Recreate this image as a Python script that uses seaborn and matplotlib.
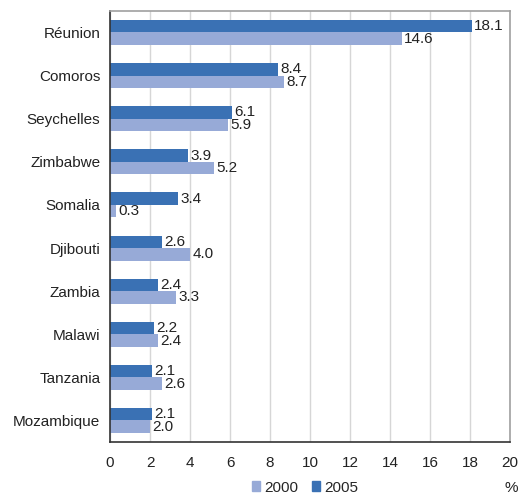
import numpy as np
import pandas as pd
import matplotlib
matplotlib.use('Agg')
import matplotlib.pyplot as plt
import seaborn as sns
from matplotlib.patches import Patch

countries = ['Réunion', 'Comoros', 'Seychelles', 'Zimbabwe', 'Somalia',
             'Djibouti', 'Zambia', 'Malawi', 'Tanzania', 'Mozambique']
vals_2005 = [18.1, 8.4, 6.1, 3.9, 3.4, 2.6, 2.4, 2.2, 2.1, 2.1]
vals_2000 = [14.6, 8.7, 5.9, 5.2, 0.3, 4.0, 3.3, 2.4, 2.6, 2.0]
years = ['2005', '2000']
colors = {'2005': '#3a71b4', '2000': '#97aad7'}

df = pd.DataFrame({
    'country': countries * 2,
    'year': ['2005'] * len(countries) + ['2000'] * len(countries),
    'value': vals_2005 + vals_2000,
})

sns.set_style('white')
plt.rcParams['font.family'] = ['Liberation Sans', 'DejaVu Sans']

fig = plt.figure(figsize=(5.19, 4.95), dpi=100)
ax = fig.add_axes([0.212, 0.107, 0.771, 0.871])

sns.barplot(data=df, x='value', y='country', hue='year', hue_order=years,
            order=countries, palette=colors, width=0.58, orient='h',
            saturation=1, linewidth=0, ax=ax, legend=False)

for cont in ax.containers:
    labels = [f'{v:.1f}' for v in cont.datavalues]
    ax.bar_label(cont, labels=labels, padding=1.5, fontsize=11, color='#222222')

ax.set_xlim(0, 20)
ax.set_ylim(len(countries) - 0.5, -0.5)
ax.set_xticks(np.arange(0, 21, 2))
ax.set_xlabel('')
ax.set_ylabel('')
ax.xaxis.grid(True, color='#d6d6d6', lw=1)
ax.set_axisbelow(True)

ax.tick_params(axis='y', which='major', length=0, labelsize=11, pad=7, colors='#222222')
ax.set_yticks(np.arange(-0.5, len(countries), 1), minor=True)
ax.tick_params(axis='y', which='minor', length=4, direction='out', color='#333333')
ax.tick_params(axis='x', length=4, direction='out', labelsize=11, colors='#222222',
               color='#333333', pad=6)

for s in ['left', 'bottom']:
    ax.spines[s].set_color('#333333')
    ax.spines[s].set_linewidth(1.2)
for s in ['top', 'right']:
    ax.spines[s].set_color('#a0a0a0')
    ax.spines[s].set_linewidth(1.2)

handles = [Patch(color=colors['2000'], label='2000'),
           Patch(color=colors['2005'], label='2005')]
fig.legend(handles=handles, loc='center', bbox_to_anchor=(0.588, 0.015), ncol=2,
           frameon=False, fontsize=11, handlelength=0.55, handleheight=0.6,
           handletextpad=0.25, columnspacing=0.9)
fig.text(0.998, 0.015, '%', ha='right', va='center', fontsize=11, color='#222222')

fig.savefig('out.png', dpi=100)
